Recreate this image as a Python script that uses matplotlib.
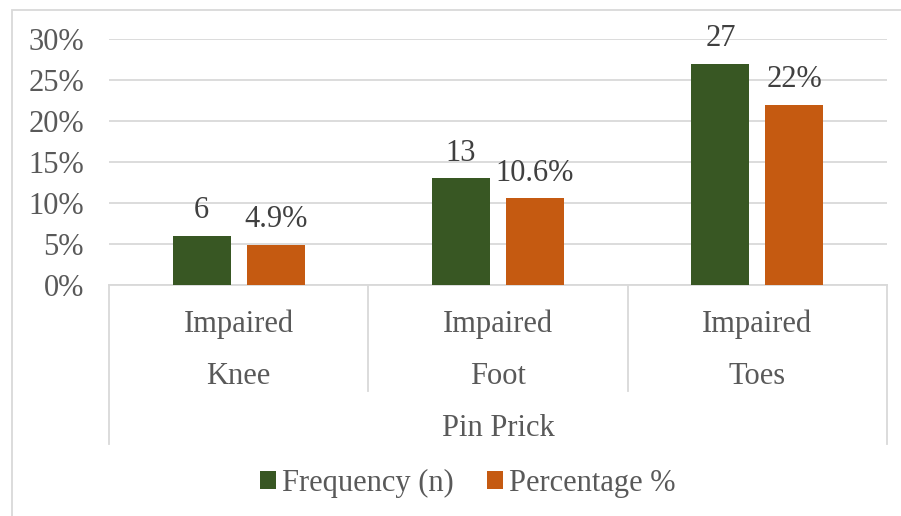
import matplotlib.pyplot as plt
from matplotlib.patches import Rectangle
from matplotlib.lines import Line2D
import matplotlib.transforms as mtransforms

plt.rcParams['font.family'] = ['Liberation Serif', 'DejaVu Serif']

# data
level1 = ["Impaired", "Impaired", "Impaired"]
level2 = ["Knee", "Foot", "Toes"]
group_label = "Pin Prick"
frequency = [6, 13, 27]
percentage = [4.9, 10.6, 22]
freq_labels = ["6", "13", "27"]
pct_labels = ["4.9%", "10.6%", "22%"]
yticks = [0, 5, 10, 15, 20, 25, 30]

green = "#385723"
orange = "#C55A11"
text_col = "#595959"
label_col = "#404040"
line_col = "#D9D9D9"
fs = 22

W, H = 901, 516
fig = plt.figure(figsize=(W / 100, H / 100), dpi=100)

# outer chart border
fig.patches.append(Rectangle((12 / W, -0.1), 1.1, 1 - 10 / H + 0.1,
                             transform=fig.transFigure, fill=False,
                             edgecolor=line_col, linewidth=1.3))

ax = fig.add_axes([109 / W, 1 - 285 / H, 778 / W, 246 / H])
x = range(len(level2))
bw = 0.224
off = 0.1425
b1 = ax.bar([i - off for i in x], frequency, bw, color=green, label="Frequency (n)", zorder=3)
b2 = ax.bar([i + off for i in x], percentage, bw, color=orange, label="Percentage %", zorder=3)

for bars, labs in ((b1, freq_labels), (b2, pct_labels)):
    for r, t in zip(bars, labs):
        ax.annotate(t, (r.get_x() + r.get_width() / 2, r.get_height()),
                    xytext=(0, 12.5), textcoords="offset points",
                    ha="center", va="baseline", fontsize=fs, color=label_col)

ax.set_xlim(-0.5, 2.5)
ax.set_ylim(0, 30)
ax.set_yticks(yticks)
ax.set_yticklabels([f"{v}%" for v in yticks], fontsize=fs, color=text_col)
ax.tick_params(axis="y", length=0, pad=18)
ax.set_xticks([])
ax.grid(axis="y", color=line_col, linewidth=1.3, zorder=0)
for s in ("top", "right", "left"):
    ax.spines[s].set_visible(False)
ax.spines["bottom"].set_color(line_col)
ax.spines["bottom"].set_linewidth(1.3)

# multi-level category axis
ah = 246.0
tr = mtransforms.blended_transform_factory(ax.transData, ax.transAxes)
for xv in (0.5, 1.5):
    ax.add_line(Line2D([xv, xv], [0, -106 / ah], transform=tr, color=line_col,
                       linewidth=1.3, clip_on=False))
for xv in (-0.5, 2.5):
    ax.add_line(Line2D([xv, xv], [0, -159 / ah], transform=tr, color=line_col,
                       linewidth=1.3, clip_on=False))
for i in x:
    ax.text(i, -39 / ah, level1[i], transform=tr, ha="center", va="center",
            fontsize=fs, color=text_col)
    ax.text(i, -91 / ah, level2[i], transform=tr, ha="center", va="center",
            fontsize=fs, color=text_col)
ax.text(1, -144 / ah, group_label, transform=tr, ha="center", va="center",
        fontsize=fs, color=text_col)

fig.legend(handles=[b1, b2], loc="center", bbox_to_anchor=(468 / W, 1 - 483 / H),
           ncol=2, frameon=False, fontsize=fs, labelcolor=text_col,
           handlelength=0.52, handleheight=0.52, handletextpad=0.2,
           columnspacing=1.1)

fig.savefig("out.png", dpi=100)
